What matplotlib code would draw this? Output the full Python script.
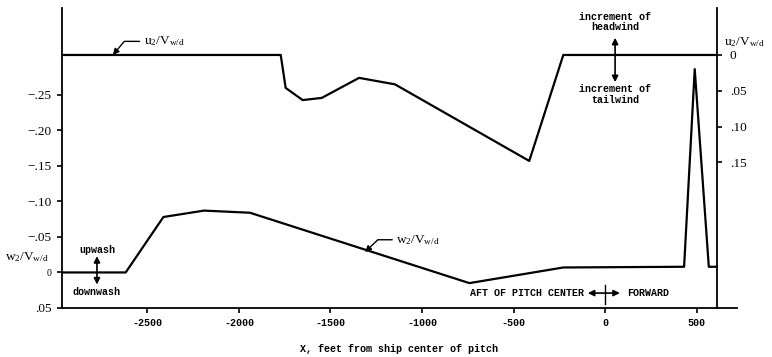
import matplotlib
matplotlib.use("Agg")
from matplotlib import pyplot as plt
from matplotlib import transforms

plt.rcParams["font.family"] = ["Liberation Mono", "DejaVu Sans Mono"]
plt.rcParams["mathtext.fontset"] = "custom"
plt.rcParams["mathtext.rm"] = "Liberation Serif"
plt.rcParams["mathtext.it"] = "Liberation Serif:italic"

# w2/Vw/d along the flight path (left axis, positive = downwash)
w_x = [-2967, -2619, -2413, -2191, -1940, -741, -228, 432, 490, 567, 610]
w_val = [0.0, 0.0, -0.078, -0.087, -0.084, 0.015, -0.007, -0.008, -0.286, -0.008, -0.008]

# u2/Vw/d along the flight path (right axis, positive = tailwind)
u_x = [-2967, -1772, -1745, -1652, -1548, -1344, -1148, -414, -228, 610]
u_val = [0.0, 0.0, 0.046, 0.063, 0.060, 0.032, 0.041, 0.148, 0.0, 0.0]

x_ticks = [-2500, -2000, -1500, -1000, -500, 0, 500]
w_ticks = [-0.25, -0.20, -0.15, -0.10, -0.05, 0.0, 0.05]
w_tick_labels = ["\u2212.25", "\u2212.20", "\u2212.15", "\u2212.10", "\u2212.05", "0", ".05"]
u_ticks = [0.0, 0.05, 0.10, 0.15]
u_tick_labels = ["0", ".05", ".10", ".15"]

mono = dict(family="Liberation Mono", weight="bold", size=7.2)
serif = dict(family="Liberation Serif", size=9.5)

fig = plt.figure(figsize=(7.72, 3.57), dpi=100)
ax = fig.add_axes([62 / 772, 1 - 308 / 357, 675 / 772, 300 / 357])
ax2 = ax.twinx()

ax.plot(w_x, w_val, color="black", lw=1.6)
ax2.plot(u_x, u_val, color="black", lw=1.6)

ax.set_xlim(-2967, 721)
ax.set_ylim(0.0485, -0.372)
ax2.set_ylim(0.3534, -0.0656)

for s in ["top", "right"]:
    ax.spines[s].set_visible(False)
for s in ["top", "left", "bottom"]:
    ax2.spines[s].set_visible(False)
ax2.spines["right"].set_position(("data", 610))
for sp in [ax.spines["left"], ax.spines["bottom"], ax2.spines["right"]]:
    sp.set_linewidth(1.3)

ax.set_xticks(x_ticks)
ax.set_xticklabels([str(v) for v in x_ticks], **mono)
ax.set_yticks(w_ticks)
ax.set_yticklabels(w_tick_labels, **serif)
ax.get_yticklabels()[5].set_fontsize(7)
ax2.set_yticks(u_ticks)
ax2.set_yticklabels(u_tick_labels, **serif)
ax.tick_params(axis="both", direction="out", length=3.5, width=1.2, pad=4)
ax2.tick_params(axis="y", direction="out", length=3.5, width=1.2, pad=6)

ax.set_xlabel("X, feet from ship center of pitch", labelpad=11, **mono)

# axis labels
trans = transforms.blended_transform_factory(ax.transAxes, ax.transData)
ax.text(-0.084, -0.022, r"$\mathrm{w_2/V_{w/d}}$", transform=trans, fontsize=9.5,
        ha="left", va="center")
ax2.text(650, -0.018, r"$\mathrm{u_2/V_{w/d}}$", fontsize=9.5, ha="left", va="center",
         clip_on=False)

arrow = dict(arrowstyle="-|>", color="black", lw=1.0, mutation_scale=9,
             shrinkA=1, shrinkB=0, relpos=(0, 0.5))
ax2.annotate(r"$\mathrm{u_2/V_{w/d}}$", xy=(-2689, 0.0), xytext=(-2520, -0.019),
             fontsize=9.5, ha="left", va="center",
             arrowprops=dict(arrow, connectionstyle="angle,angleA=0,angleB=50"))
ax.annotate(r"$\mathrm{w_2/V_{w/d}}$", xy=(-1311, -0.0287), xytext=(-1140, -0.046),
            fontsize=9.5, ha="left", va="center",
            arrowprops=dict(arrow, connectionstyle="angle,angleA=0,angleB=44"))

# upwash / downwash
dbl = dict(arrowstyle="<|-|>", color="black", lw=1.2, mutation_scale=9,
           shrinkA=0, shrinkB=0)
ax.annotate("", xy=(-2776, -0.023), xytext=(-2776, 0.017), arrowprops=dbl)
ax.text(-2776, -0.032, "upwash", ha="center", va="center", **mono)
ax.text(-2776, 0.0275, "downwash", ha="center", va="center", **mono)

# headwind / tailwind
ax2.annotate("", xy=(55, -0.024), xytext=(55, 0.038), arrowprops=dbl)
ax2.text(55, -0.046, "increment of\nheadwind", ha="center", va="center",
         linespacing=1.1, **mono)
ax2.text(55, 0.055, "increment of\ntailwind", ha="center", va="center",
         linespacing=1.1, **mono)

# aft / forward
ax.annotate("", xy=(-94, 0.029), xytext=(81, 0.029), arrowprops=dbl)
ax.plot([0, 0], [0.018, 0.045], color="black", lw=1.0)
ax.text(-115, 0.029, "AFT OF PITCH CENTER", ha="right", va="center", **mono)
ax.text(118, 0.029, "FORWARD", ha="left", va="center", **mono)

fig.savefig("out.png", dpi=100)
